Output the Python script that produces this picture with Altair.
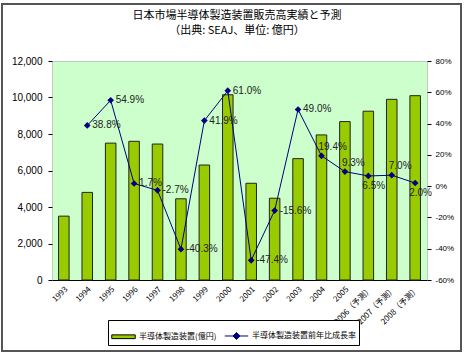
import altair as alt
import pandas as pd

years = ["1993", "1994", "1995", "1996", "1997", "1998", "1999", "2000", "2001",
         "2002", "2003", "2004", "2005", "2006（予測）", "2007（予測）", "2008（予測）"]
sales = [3500, 4800, 7500, 7600, 7450, 4450, 6300, 10150, 5300, 4480, 6650,
         7950, 8680, 9250, 9900, 10100]
growth = [None, 38.8, 54.9, 1.7, -2.7, -40.3, 41.9, 61.0, -47.4, -15.6, 49.0,
          19.4, 9.3, 6.5, 7.0, 2.0]
label_above = ["2004", "2005", "2007（予測）"]
label_below = ["2006（予測）", "2008（予測）"]

S1 = "半導体製造装置(億円)"
S2 = "半導体製造装置前年比成長率"
title_lines = ["日本市場半導体製造装置販売高実績と予測", "（出典: SEAJ、単位: 億円）"]

df = pd.DataFrame({"year": years, "sales": sales, "growth": growth})
df["s1"] = S1
df["s2"] = S2
df["gl"] = [None if g is None or pd.isna(g) else f"{g:.1f}%" for g in growth]
gdf = df.dropna(subset=["growth"])

FONT = "Liberation Sans"
JFONT = "Noto Sans CJK JP"

xenc = alt.X("year:N", sort=years, title=None,
             scale=alt.Scale(paddingInner=0.55, paddingOuter=0.28),
             axis=alt.Axis(labelAngle=-45, labelFontSize=8, labelFont=JFONT,
                           labelColor="#000", ticks=False, domainColor="#000",
                           labelPadding=5))

color_scale = alt.Scale(domain=[S1, S2], range=["#99CC00", "#000080"])
RECT_PATH = "M-1,-0.16H1V0.16H-1Z"
LINE_PATH = "M-1,0H1M-0.3,0L0,-0.3L0.3,0L0,0.3Z"
legend = alt.Legend(
    title=None, orient="none", legendX=56, legendY=259,
    direction="horizontal", strokeColor="#000", fillColor="#fff",
    padding=3, labelFont=JFONT, labelFontSize=8, labelColor="#000",
    symbolSize=550, columnPadding=5, labelOffset=3,
    symbolType={"expr": f"datum.index === 0 ? '{RECT_PATH}' : '{LINE_PATH}'"},
    symbolStrokeColor={"expr": "datum.index === 0 ? '#000' : '#000080'"},
    symbolStrokeWidth=1, symbolOpacity=1,
)

bars = alt.Chart(df).mark_bar(stroke="#222", strokeWidth=1).encode(
    x=xenc,
    y=alt.Y("sales:Q", title=None,
            scale=alt.Scale(domain=[0, 12000], nice=False),
            axis=alt.Axis(values=list(range(0, 12001, 2000)), format=",.0f",
                          labelFont=FONT, labelFontSize=10, labelColor="#000",
                          domain=False, tickColor="#000", tickSize=4,
                          grid=False, labelPadding=6)),
    color=alt.Color("s1:N", scale=color_scale, legend=legend),
)

yg = alt.Y("growth:Q", title=None, scale=alt.Scale(domain=[-60, 80], nice=False),
           axis=alt.Axis(orient="right", values=list(range(-60, 81, 20)),
                         labelExpr="datum.value + '%'", labelFont=FONT,
                         labelFontSize=8, labelColor="#000", domain=False,
                         tickColor="#000", tickSize=4, grid=False, labelPadding=4))

base = alt.Chart(gdf)
line = base.mark_line(color="#000080", strokeWidth=1).encode(x=xenc, y=yg)
pts = base.mark_point(filled=True, opacity=1, size=45, shape="diamond").encode(
    x=xenc, y=yg,
    color=alt.Color("s2:N", scale=color_scale, legend=legend),
)
tright = base.transform_filter(
    ~alt.FieldOneOfPredicate(field="year", oneOf=label_above + label_below)
).mark_text(align="left", baseline="middle", dx=5, fontSize=10, font=FONT,
            color="#222").encode(x=xenc, y=yg, text="gl:N")
tabove = base.transform_filter(
    alt.FieldOneOfPredicate(field="year", oneOf=label_above)
).mark_text(align="left", baseline="bottom", dx=-3, dy=-4, fontSize=10, font=FONT,
            color="#222").encode(x=xenc, y=yg, text="gl:N")
tbelow = base.transform_filter(
    alt.FieldOneOfPredicate(field="year", oneOf=label_below)
).mark_text(align="left", baseline="top", dx=-6, dy=5, fontSize=10, font=FONT,
            color="#222").encode(x=xenc, y=yg, text="gl:N")

right = alt.layer(line, pts, tright, tabove, tbelow)

frame = alt.Chart(pd.DataFrame({"a": [0]})).mark_rect(
    fill=None, stroke="#555", strokeWidth=2, clip=False
).encode(x=alt.value(-50), x2=alt.value(409), y=alt.value(-57), y2=alt.value(290))

title1 = alt.Chart(pd.DataFrame({"t": [title_lines[0]]})).mark_text(
    font=JFONT, fontSize=11, color="#000", align="center", baseline="middle"
).encode(text="t:N", x=alt.value(185), y=alt.value(-45))
title2 = alt.Chart(pd.DataFrame({"t": [title_lines[1]]})).mark_text(
    font=JFONT, fontSize=11, color="#000", align="center", baseline="middle"
).encode(text="t:N", x=alt.value(185), y=alt.value(-30))

chart = alt.layer(bars, right, frame, title1, title2).resolve_scale(
    y="independent", color="shared"
).properties(
    width=375, height=219,
    autosize=alt.AutoSizeParams(type="none"),
    padding={"left": 52, "top": 61, "right": 38, "bottom": 75},
    background="#ffffff",
).configure_view(
    fill="#CCFFCC", stroke="#999999", strokeDash=[1, 1]
)

chart.save("out.html", embed_options={"renderer": "svg", "actions": False})
